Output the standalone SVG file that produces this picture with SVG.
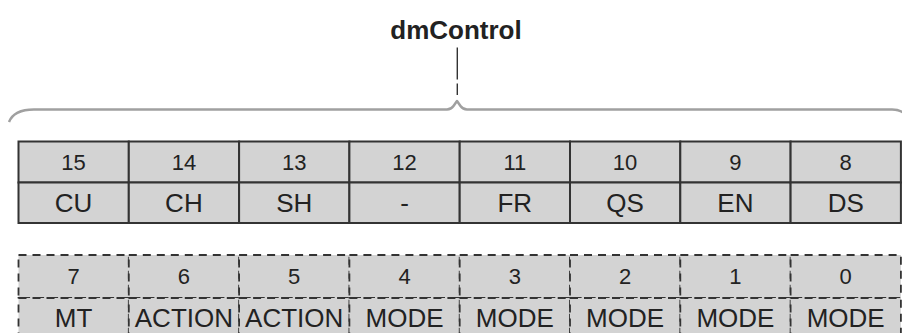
<svg xmlns="http://www.w3.org/2000/svg" width="902" height="333" viewBox="0 0 902 333">
  <style>
    .cell { fill: #d3d3d3; stroke: #333; stroke-width: 2; }
    .dcell { fill: #d3d3d3; stroke: #333; stroke-width: 1.8; stroke-dasharray: 8 6; }
    .num { font-family: "Liberation Sans", Arial, sans-serif; font-size: 22px; fill: #222; text-anchor: middle; }
    .name { font-family: "Liberation Sans", Arial, sans-serif; font-size: 26px; fill: #222; text-anchor: middle; }
    .title { font-family: "Liberation Sans", Arial, sans-serif; font-size: 26px; font-weight: bold; fill: #222; text-anchor: middle; }
    .brace { fill: none; stroke: #a0a0a0; stroke-width: 2.5; stroke-linejoin: round; }
    .lead { fill: none; stroke: #333; stroke-width: 1.4; }
  </style>

  <!-- register label -->
  <g id="title">
    <text class="title" x="456" y="39">dmControl</text>
  </g>

  <!-- brace and leader line -->
  <g id="connectors">
    <path class="lead" d="M457.3 47.5 V79.5 M457.3 83.5 V95"/>
    <path class="brace" d="M9 122 Q14 109.5 34 109.5 L447 109.5 Q451 109.5 453.5 106 L457 101 L460.5 106 Q463 109.5 467 109.5 L892 109.5 Q899 109.5 903 112.5"/>
  </g>

  <!-- high byte: bits 15..8 -->
  <g id="bit15"><rect class="cell" x="18.5" y="141.5" width="110.3" height="41"/><rect class="cell" x="18.5" y="182.5" width="110.3" height="40.5"/><text class="num" x="73.6" y="170">15</text><text class="name" x="73.6" y="212">CU</text></g>
  <g id="bit14"><rect class="cell" x="128.8" y="141.5" width="110.3" height="41"/><rect class="cell" x="128.8" y="182.5" width="110.3" height="40.5"/><text class="num" x="183.9" y="170">14</text><text class="name" x="183.9" y="212">CH</text></g>
  <g id="bit13"><rect class="cell" x="239.1" y="141.5" width="110.3" height="41"/><rect class="cell" x="239.1" y="182.5" width="110.3" height="40.5"/><text class="num" x="294.2" y="170">13</text><text class="name" x="294.2" y="212">SH</text></g>
  <g id="bit12"><rect class="cell" x="349.4" y="141.5" width="110.3" height="41"/><rect class="cell" x="349.4" y="182.5" width="110.3" height="40.5"/><text class="num" x="404.5" y="170">12</text><text class="name" x="404.5" y="212">-</text></g>
  <g id="bit11"><rect class="cell" x="459.7" y="141.5" width="110.3" height="41"/><rect class="cell" x="459.7" y="182.5" width="110.3" height="40.5"/><text class="num" x="514.8" y="170">11</text><text class="name" x="514.8" y="212">FR</text></g>
  <g id="bit10"><rect class="cell" x="570" y="141.5" width="110.3" height="41"/><rect class="cell" x="570" y="182.5" width="110.3" height="40.5"/><text class="num" x="625.1" y="170">10</text><text class="name" x="625.1" y="212">QS</text></g>
  <g id="bit9"><rect class="cell" x="680.3" y="141.5" width="110.3" height="41"/><rect class="cell" x="680.3" y="182.5" width="110.3" height="40.5"/><text class="num" x="735.4" y="170">9</text><text class="name" x="735.4" y="212">EN</text></g>
  <g id="bit8"><rect class="cell" x="790.6" y="141.5" width="110.3" height="41"/><rect class="cell" x="790.6" y="182.5" width="110.3" height="40.5"/><text class="num" x="845.7" y="170">8</text><text class="name" x="845.7" y="212">DS</text></g>

  <!-- low byte: bits 7..0 (dashed outline) -->
  <g id="bit7"><rect class="dcell" x="18.5" y="255" width="110.3" height="43"/><rect class="dcell" x="18.5" y="298" width="110.3" height="44"/><text class="num" x="73.6" y="284">7</text><text class="name" x="73.6" y="326.5">MT</text></g>
  <g id="bit6"><rect class="dcell" x="128.8" y="255" width="110.3" height="43"/><rect class="dcell" x="128.8" y="298" width="110.3" height="44"/><text class="num" x="183.9" y="284">6</text><text class="name" x="183.9" y="326.5">ACTION</text></g>
  <g id="bit5"><rect class="dcell" x="239.1" y="255" width="110.3" height="43"/><rect class="dcell" x="239.1" y="298" width="110.3" height="44"/><text class="num" x="294.2" y="284">5</text><text class="name" x="294.2" y="326.5">ACTION</text></g>
  <g id="bit4"><rect class="dcell" x="349.4" y="255" width="110.3" height="43"/><rect class="dcell" x="349.4" y="298" width="110.3" height="44"/><text class="num" x="404.5" y="284">4</text><text class="name" x="404.5" y="326.5">MODE</text></g>
  <g id="bit3"><rect class="dcell" x="459.7" y="255" width="110.3" height="43"/><rect class="dcell" x="459.7" y="298" width="110.3" height="44"/><text class="num" x="514.8" y="284">3</text><text class="name" x="514.8" y="326.5">MODE</text></g>
  <g id="bit2"><rect class="dcell" x="570" y="255" width="110.3" height="43"/><rect class="dcell" x="570" y="298" width="110.3" height="44"/><text class="num" x="625.1" y="284">2</text><text class="name" x="625.1" y="326.5">MODE</text></g>
  <g id="bit1"><rect class="dcell" x="680.3" y="255" width="110.3" height="43"/><rect class="dcell" x="680.3" y="298" width="110.3" height="44"/><text class="num" x="735.4" y="284">1</text><text class="name" x="735.4" y="326.5">MODE</text></g>
  <g id="bit0"><rect class="dcell" x="790.6" y="255" width="110.3" height="43"/><rect class="dcell" x="790.6" y="298" width="110.3" height="44"/><text class="num" x="845.7" y="284">0</text><text class="name" x="845.7" y="326.5">MODE</text></g>
</svg>
